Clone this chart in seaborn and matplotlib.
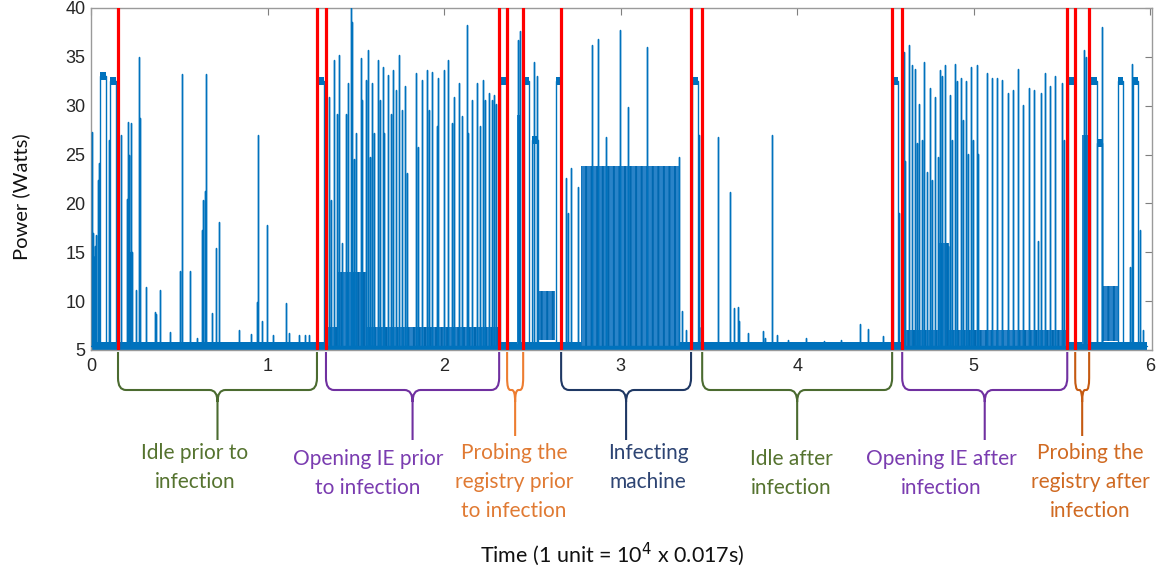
import numpy as np
import pandas as pd
import matplotlib
matplotlib.use("Agg")
import matplotlib.pyplot as plt
import seaborn as sns
from matplotlib.path import Path
from matplotlib.patches import PathPatch

# ---- data (time in units of 1e4 samples, power in W) ----
base_w = 5.4
trace_end = 5.98

# red phase boundaries
boundaries = [0.153, 1.280, 1.331, 2.312, 2.357, 2.448, 2.663,
              3.399, 3.462, 4.538, 4.595, 5.530, 5.575, 5.654]

# individual spikes
spike_t = [0.003, 0.010, 0.015, 0.022, 0.030, 0.040, 0.046, 0.086, 0.104,
           0.168, 0.205, 0.212, 0.218, 0.224, 0.230, 0.255, 0.272, 0.276,
           0.310, 0.362, 0.368, 0.390, 0.450, 0.504, 0.514, 0.561, 0.600,
           0.627, 0.636, 0.648, 0.652, 0.684, 0.708, 0.725, 0.840, 0.905,
           0.940, 0.944, 0.970, 0.995, 1.030, 1.105, 1.120, 1.180, 1.210,
           1.235, 1.320,
           1.350, 1.360, 1.379, 1.392, 1.407, 1.420, 1.443, 1.458, 1.473,
           1.476, 1.490, 1.500, 1.528, 1.535, 1.556, 1.569, 1.580, 1.590,
           1.603, 1.624, 1.637, 1.653, 1.662, 1.685, 1.700, 1.713, 1.730,
           1.745, 1.760, 1.779, 1.790, 1.840, 1.855, 1.873, 1.902, 1.917,
           1.934, 1.958, 1.968, 2.000, 2.025, 2.045, 2.058, 2.087, 2.100,
           2.128, 2.138, 2.157, 2.185, 2.205, 2.223, 2.232, 2.257, 2.270,
           2.285, 2.295,
           2.418, 2.430, 2.510, 2.525,
           2.691, 2.704, 2.720, 2.757, 2.836, 2.873, 2.920, 2.995, 3.043,
           3.148, 3.332, 3.350, 3.370, 3.445, 3.455,
           3.554, 3.617, 3.622, 3.643, 3.667, 3.670, 3.722, 3.805, 3.820,
           3.857, 3.887, 3.950, 4.050, 4.150, 4.250, 4.357, 4.404, 4.487,
           4.578, 4.593,
           4.606, 4.612, 4.635, 4.650, 4.665, 4.678, 4.693, 4.708, 4.721,
           4.735, 4.750, 4.765, 4.778, 4.795, 4.810, 4.822, 4.839, 4.853,
           4.867, 4.878, 4.895, 4.908, 4.927, 4.937, 4.956, 4.966, 4.984,
           4.996, 5.018, 5.022, 5.075, 5.103, 5.131, 5.160, 5.194, 5.222,
           5.250, 5.282, 5.311, 5.339, 5.367, 5.382, 5.405, 5.433, 5.462,
           5.499, 5.510,
           5.626, 5.637, 5.726, 5.887, 5.896, 5.943, 5.960]
spike_w = [27.3, 17.0, 14.5, 15.6, 16.8, 22.4, 24.1, 13.8, 26.5,
           27.0, 20.5, 28.3, 25.0, 28.2, 15.0, 11.1, 35.0, 28.7,
           11.4, 8.9, 8.7, 11.1, 6.8, 13.1, 33.2, 13.1, 6.2,
           17.3, 20.3, 21.3, 33.2, 8.8, 15.4, 18.1, 7.0, 6.6,
           9.9, 27.0, 8.0, 17.8, 6.5, 9.8, 6.7, 6.5, 6.5,
           6.5, 18.0,
           30.9, 20.3, 34.7, 29.2, 35.2, 16.0, 29.2, 32.3, 40.0,
           38.6, 24.5, 27.2, 34.9, 30.6, 32.6, 35.7, 24.8, 32.3,
           27.2, 34.7, 30.6, 34.0, 27.2, 33.1, 29.2, 33.7, 31.6,
           35.2, 29.6, 32.0, 23.1, 33.3, 25.8, 32.6, 33.7, 29.6,
           33.5, 27.9, 32.8, 33.7, 34.7, 28.2, 30.9, 32.3, 28.9,
           38.3, 27.2, 30.6, 32.3, 27.9, 32.6, 30.6, 31.3, 30.6,
           31.1, 30.2,
           36.7, 37.6, 34.5, 33.0,
           22.6, 19.0, 23.6, 21.7, 36.2, 36.8, 26.8, 37.7, 29.9,
           36.0, 24.8, 9.0, 7.0, 27.0, 7.4,
           26.8, 21.2, 11.5, 9.3, 9.4, 8.0, 6.7, 6.9, 6.2,
           27.0, 6.5, 6.0, 6.2, 5.9, 6.0, 7.7, 7.2, 6.4,
           19.0, 12.5,
           35.5, 24.3, 36.2, 34.2, 33.8, 26.2, 30.2, 26.5, 34.5,
           23.2, 31.8, 22.4, 30.9, 24.8, 33.7, 33.0, 34.2, 15.6,
           31.1, 26.5, 34.3, 32.5, 32.8, 28.5, 32.5, 25.1, 34.0,
           26.5, 34.2, 25.1, 33.3, 32.8, 32.8, 32.6, 31.3, 31.6,
           33.8, 30.1, 31.8, 31.6, 16.2, 31.3, 33.3, 32.0, 33.0,
           32.3, 26.5,
           35.7, 35.0, 38.1, 13.5, 34.3, 17.3, 7.0]

# flat ~32.5 W plateaus (and two ~26 W shelves)
plateau_start = [0.052, 0.108, 1.282, 2.314, 2.450, 2.498, 2.632, 3.405,
                 4.541, 5.532, 5.657, 5.700, 5.820, 5.904]
plateau_end = [0.083, 0.142, 1.318, 2.356, 2.482, 2.532, 2.660, 3.440,
               4.570, 5.572, 5.697, 5.725, 5.847, 5.932]
plateau_w = [33.0, 32.5, 32.5, 32.5, 32.5, 26.5, 32.5, 32.5,
             32.5, 32.5, 32.5, 26.2, 32.5, 32.5]

# dense activity blocks (start, end, low, high)
block_start = [0.208, 1.330, 1.400, 2.412, 2.533, 2.775, 4.600, 4.800, 5.615, 5.734]
block_end = [0.228, 2.310, 1.560, 2.438, 2.629, 3.336, 5.530, 4.860, 5.648, 5.819]
block_low = [5.4, 5.4, 5.4, 5.6, 6.0, 5.4, 5.4, 5.4, 5.6, 5.9]
block_high = [15.0, 7.4, 13.0, 29.0, 11.0, 23.8, 7.0, 16.0, 27.0, 11.5]

# phases under the braces
phase_labels = ["Idle prior to\ninfection", "Opening IE prior\nto infection",
                "Probing the\nregistry prior\nto infection", "Infecting\nmachine",
                "Idle after\ninfection", "Opening IE after\ninfection",
                "Probing the\nregistry after\ninfection"]
phase_start = [0.153, 1.331, 2.357, 2.663, 3.462, 4.595, 5.575]
phase_end = [1.280, 2.312, 2.448, 3.399, 4.538, 5.530, 5.654]

# ---- layout / style ----
text_x = [0.589, 1.569, 2.397, 3.156, 3.966, 4.816, 5.660]
text_top_px = [443, 449, 443, 443, 449, 449, 443]
brace_colors = ["#4b6b30", "#7030a0", "#ed7d31", "#1f3864", "#4b6b30", "#7030a0", "#c55a11"]
text_colors = ["#55732f", "#7a3cb0", "#e07a33", "#2d4473", "#55732f", "#7a3cb0", "#d06a22"]
line_blue = "#0072bd"

sns.set_style("white")
plt.rcParams["font.family"] = ["Liberation Sans", "DejaVu Sans"]
plt.rcParams["hatch.linewidth"] = 1.4

W, H = 1164, 570
fig = plt.figure(figsize=(W / 100, H / 100), dpi=100)
ax = fig.add_axes([91 / W, 1 - 350 / H, (1152 - 91) / W, (350 - 8) / H])


def ypx(py):
    # figure pixel row -> axes fraction (axes spans rows 8..350)
    return (350 - py) / 342.0


# baseline band
ax.fill_between([0, trace_end], 5.05, 5.85, color=line_blue, lw=0, zorder=2)

for t0, t1, lo, hi in zip(block_start, block_end, block_low, block_high):
    ax.fill_between([t0, t1], lo, hi, facecolor="#2a83c8", edgecolor="#0068b0",
                    hatch="|||", lw=0, zorder=2)

for t0, t1, lvl in zip(plateau_start, plateau_end, plateau_w):
    ax.fill_between([t0, t1], lvl - 0.4, lvl + 0.4, color=line_blue, lw=0, zorder=3)

# one polyline for spikes and plateau edges
events = []
for t, v in zip(spike_t, spike_w):
    events.append((t, [(t, base_w), (t, v), (t, base_w)]))
for t0, t1, lvl in zip(plateau_start, plateau_end, plateau_w):
    events.append((t0, [(t0, base_w), (t0, lvl), (t1, lvl), (t1, base_w)]))
events.sort(key=lambda e: e[0])
pts = [(0.0, base_w)]
for _, p in events:
    pts.extend(p)
pts.append((trace_end, base_w))
trace = pd.DataFrame(pts, columns=["time", "power"])
trace["order"] = np.arange(len(trace))
sns.lineplot(data=trace, x="time", y="power", sort=False, estimator=None,
             color=line_blue, lw=1.0, ax=ax, zorder=3)

for b in boundaries:
    ax.axvline(b, color="red", lw=2.3, zorder=5)

ax.set_xlim(0, 6.01)
ax.set_ylim(5, 40)
ax.set_xticks(range(0, 7))
ax.set_yticks(range(5, 41, 5))
ax.set_xlabel("")
ax.set_ylabel("")
ax.tick_params(direction="in", top=True, right=True, length=5, width=0.8,
               color="#7f7f7f", labelsize=13, labelcolor="#262626")
ax.tick_params(axis="x", pad=6)
ax.tick_params(axis="y", pad=4)
for s in ax.spines.values():
    s.set_color("#9a9a9a")
    s.set_linewidth(1.0)

# braces
trans = ax.get_xaxis_transform()
y_top, y_mid, y_bot = ypx(352), ypx(390), ypx(440)
for x0, x1, col in zip(phase_start, phase_end, brace_colors):
    xc = (x0 + x1) / 2
    rx = min(0.045, (x1 - x0) / 5)
    ry = ypx(350) - ypx(362)
    sy = ypx(350) - ypx(362)
    bot = y_bot if x1 - x0 > 0.2 else ypx(436)
    verts = [(x0, y_top), (x0, y_mid + ry), (x0, y_mid), (x0 + rx, y_mid),
             (xc - rx, y_mid), (xc, y_mid), (xc, y_mid - sy), (xc, bot),
             (xc, y_mid - sy), (xc, y_mid), (xc + rx, y_mid),
             (x1 - rx, y_mid), (x1, y_mid), (x1, y_mid + ry), (x1, y_top)]
    codes = [Path.MOVETO, Path.LINETO, Path.CURVE3, Path.CURVE3,
             Path.LINETO, Path.CURVE3, Path.CURVE3, Path.LINETO,
             Path.MOVETO, Path.CURVE3, Path.CURVE3,
             Path.LINETO, Path.CURVE3, Path.CURVE3, Path.LINETO]
    ax.add_patch(PathPatch(Path(verts, codes), fill=False, edgecolor=col,
                           lw=1.5, transform=trans, clip_on=False))

for lab, tx, ty, col in zip(phase_labels, text_x, text_top_px, text_colors):
    ax.text(tx, ypx(ty), lab, transform=trans, ha="center", va="top",
            fontsize=15, color=col, family=["Lato", "DejaVu Sans"],
            linespacing=1.55)

fig.text(21 / W, 1 - 197 / H, "Power (Watts)", rotation=90, ha="center",
         va="center", fontsize=14.5, color="#111111", family=["Lato", "DejaVu Sans"])
fig.text(612 / W, 1 - 554 / H, "Time (1 unit = 10$^4$ x 0.017s)", ha="center",
         va="center", fontsize=15.5, color="#111111", family=["Lato", "DejaVu Sans"])

fig.savefig("out.png", dpi=100)
